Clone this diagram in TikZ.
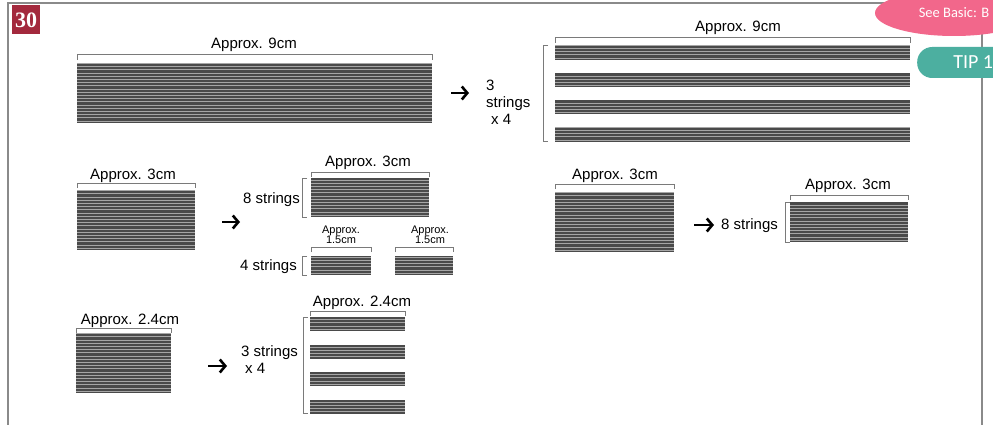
\documentclass[tikz,border=0pt]{standalone}
\usepackage{fontspec}
\setmainfont{Liberation Sans}
\newfontfamily\carl{Carlito}
\newfontfamily\serifb{Liberation Serif}
\usetikzlibrary{arrows.meta,shapes.geometric}
\definecolor{framegray}{HTML}{8A8A8A}
\definecolor{badgec}{HTML}{A3293D}
\definecolor{pinkc}{HTML}{F2678B}
\definecolor{tealc}{HTML}{4CAFA0}
\definecolor{stripdark}{HTML}{4A4A4A}
\definecolor{striplight}{HTML}{A6A6A6}
\definecolor{brk}{HTML}{7A7A7A}
\tikzset{
  strip/.style={draw=none, fill=stripdark, inner sep=0pt, outer sep=0pt,
    path picture={
      \foreach \k in {0,...,40}{
        \draw[striplight, line width=1pt]
          ([yshift=\k*3.2pt+1.8pt]path picture bounding box.south west) --
          ([yshift=\k*3.2pt+1.8pt]path picture bounding box.south east);
      }}},
  lbl/.style={font=\fontsize{15}{17}\selectfont, inner sep=0pt},
  multi/.style={font=\fontsize{15}{17}\selectfont, inner sep=0pt, align=left},
  smalllbl/.style={font=\fontsize{11}{10}\selectfont, align=center, inner sep=0pt},
  brack/.style={draw=brk, line width=1pt},
  arr/.style={line width=2.6pt, -{Straight Barb[length=5.5pt,width=13pt]}}
}
\newcommand\topbr[3]{\draw[brack] ([yshift=#3pt-5pt]#1.north west) -- ([yshift=#3pt]#1.north west) -- ([yshift=#3pt]#2.north east) -- ([yshift=#3pt-5pt]#2.north east);}
\newcommand\leftbr[3]{\draw[brack] ([xshift=-#3pt+5pt]#1.north west) -- ([xshift=-#3pt]#1.north west) -- ([xshift=-#3pt]#2.south west) -- ([xshift=-#3pt+5pt]#2.south west);}
\begin{document}
\begin{tikzpicture}[x=1pt,y=-1pt]
\useasboundingbox (0,0) rectangle (993,425);
\clip (0,0) rectangle (993,425);
\fill[white] (0,0) rectangle (993,425);
% frame
\draw[framegray, line width=1.5pt] (8,440) -- (8,3) -- (982,3) -- (982,440);
% badge
\node[fill=badgec, text=white, minimum width=28pt, minimum height=29pt, inner sep=0pt,
      font=\serifb\fontsize{22}{22}\selectfont\bfseries] (badge) at (26,20) {30};
% pink ellipse and tip
\node[ellipse, fill=pinkc, text=white, minimum width=158pt, minimum height=46pt, inner sep=0pt,
      font=\carl\fontsize{14.5}{14.5}\selectfont] (seebasic) at (954,13) {\raisebox{-2pt}{See Basic: B}};
\node[fill=tealc, text=white, rounded corners=15pt, minimum width=112pt, minimum height=31pt,
      inner sep=0pt, anchor=west, font=\carl\fontsize{20}{20}\selectfont] (tip) at (917,62.5) {TIP 1};

% ---------- row 1 ----------
\node[strip, minimum width=355pt, minimum height=60pt] (A) at (254.5,93) {};
\topbr{A}{A}{8}
\node[lbl] (Alab) at (254,45) {Approx. 9cm};
\coordinate (a1s) at (451,93);
\coordinate (a1e) at (469,93);
\draw[arr] (a1s) -- (a1e);
\node[multi, anchor=west] (Btxt) at (486,102) {3\\strings\\\hspace{5pt}x 4};
\node[strip, minimum width=355pt, minimum height=14pt] (B1) at (732.5,53) {};
\node[strip, minimum width=355pt, minimum height=14pt] (B2) at (732.5,80.5) {};
\node[strip, minimum width=355pt, minimum height=14pt] (B3) at (732.5,107.5) {};
\node[strip, minimum width=355pt, minimum height=14pt] (B4) at (732.5,135) {};
\topbr{B1}{B1}{8}
\leftbr{B1}{B4}{12}
\node[lbl] (Blab) at (738,28) {Approx. 9cm};

% ---------- row 2, left ----------
\node[strip, minimum width=118pt, minimum height=60pt] (C) at (136,220) {};
\topbr{C}{C}{7}
\node[lbl] (Clab) at (133,176) {Approx. 3cm};
\coordinate (a2s) at (222,222);
\coordinate (a2e) at (240,222);
\draw[arr] (a2s) -- (a2e);
\node[strip, minimum width=118pt, minimum height=39pt] (D) at (370,197.5) {};
\topbr{D}{D}{6}
\leftbr{D}{D}{9}
\node[lbl] (Dlab) at (368,163) {Approx. 3cm};
\node[lbl, anchor=east] (Dtxt) at (300,200) {8 strings};
\node[strip, minimum width=60pt, minimum height=19pt] (E1) at (341,265.5) {};
\node[strip, minimum width=58pt, minimum height=19pt] (E2) at (424,265.5) {};
\topbr{E1}{E1}{9}
\topbr{E2}{E2}{9}
\leftbr{E1}{E1}{9}
\node[smalllbl] (E1lab) at (341,235) {Approx.\\1.5cm};
\node[smalllbl] (E2lab) at (430,235) {Approx.\\1.5cm};
\node[lbl, anchor=east] (Etxt) at (297,267) {4 strings};

% ---------- row 2, right ----------
\node[strip, minimum width=119pt, minimum height=60pt] (F) at (614.5,222) {};
\topbr{F}{F}{8}
\node[lbl] (Flab) at (615,176) {Approx. 3cm};
\coordinate (a3s) at (694,225);
\coordinate (a3e) at (714,225);
\draw[arr] (a3s) -- (a3e);
\node[lbl, anchor=west] (Gtxt) at (721,226) {8 strings};
\node[strip, minimum width=118pt, minimum height=40pt] (G) at (849,222) {};
\topbr{G}{G}{7}
\leftbr{G}{G}{5}
\node[lbl] (Glab) at (848,186) {Approx. 3cm};

% ---------- row 3 ----------
\node[strip, minimum width=95pt, minimum height=60pt] (H) at (123.5,363) {};
\topbr{H}{H}{5}
\node[lbl] (Hlab) at (130,321) {Approx. 2.4cm};
\coordinate (a4s) at (208,366);
\coordinate (a4e) at (227,366);
\draw[arr] (a4s) -- (a4e);
\node[multi, anchor=west] (Itxt) at (241,360) {3 strings\\\hspace{4pt}x 4};
\node[strip, minimum width=95pt, minimum height=14pt] (I1) at (357.5,324) {};
\node[strip, minimum width=95pt, minimum height=14pt] (I2) at (357.5,351.5) {};
\node[strip, minimum width=95pt, minimum height=14pt] (I3) at (357.5,379) {};
\node[strip, minimum width=95pt, minimum height=14pt] (I4) at (357.5,406.5) {};
\topbr{I1}{I1}{6}
\leftbr{I1}{I4}{7}
\node[lbl] (Ilab) at (362,303) {Approx. 2.4cm};
\end{tikzpicture}
\end{document}
